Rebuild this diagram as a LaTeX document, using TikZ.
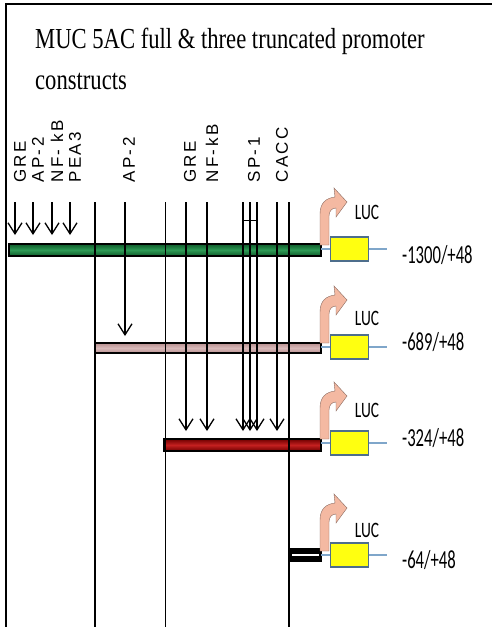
\documentclass[tikz,border=0pt]{standalone}
\usepackage{fontspec}
\setmainfont{Liberation Serif}
\newfontfamily\lucfont{Carlito}
\newfontfamily\sitefont{Liberation Sans}
\usetikzlibrary{arrows.meta, positioning}

\definecolor{barGreen}{HTML}{2E9A55}
\definecolor{barGreenD}{HTML}{0E5A2A}
\definecolor{barPink}{HTML}{D9B9B9}
\definecolor{barPinkD}{HTML}{B89090}
\definecolor{barRed}{HTML}{C42020}
\definecolor{barRedD}{HTML}{700000}
\definecolor{lucYellow}{HTML}{FFFF10}
\definecolor{lucEdge}{HTML}{4E6E8C}
\definecolor{lucWire}{HTML}{7FA6CA}
\definecolor{tssFill}{HTML}{F4B9A2}
\definecolor{tssEdge}{HTML}{8A6A60}

\begin{document}
\begin{tikzpicture}
  [x=1pt,y=-1pt,
   site/.style={rotate=90,anchor=west,inner sep=0pt,
     font=\sitefont\fontsize{17}{17}\selectfont\addfontfeature{LetterSpace=15}},
   bind/.style={line width=1.3pt,-{Straight Barb[length=11pt,width=14pt,line width=1.3pt]}},
   bar/.style={draw=black,line width=2.6pt},
   lucbox/.style={draw=lucEdge,line width=1.8pt,fill=lucYellow,
     minimum width=38pt,minimum height=24pt,inner sep=0pt},
   luctext/.style={font=\lucfont\fontsize{22}{22}\selectfont\addfontfeature{FakeStretch=0.7}},
   constr/.style={anchor=west,inner sep=0pt,
     font=\lucfont\fontsize{26}{26}\selectfont\addfontfeature{FakeStretch=0.64}},
   heading/.style={anchor=base west,inner sep=0pt,
     font=\fontsize{29}{29}\selectfont\addfontfeature{FakeStretch=0.78}}]
  \useasboundingbox (0,0) rectangle (492,629);

  % frame and title
  \draw[line width=1.2pt] (492,4) -- (6,4) -- (6,627);
  \node[heading] (title1) at (35,48) {MUC 5AC full \& three truncated promoter};
  \node[heading] (title2) at (35,89) {constructs};

  % binding site labels
  \foreach \xx/\txt in {20/GRE, 38/AP-2, 57/NF- kB, 75/PEA3, 129/AP-2,
                        190/GRE, 212/NF-kB, 254/SP-1, 282/CACC}
    \node[site] (lab\xx) at (\xx,183) {\txt};

  % promoter bars
  \draw[bar,top color=barGreenD,bottom color=barGreenD,middle color=barGreen]
    (9,244) rectangle (321,256);
  \draw[bar,top color=barPinkD,bottom color=barPinkD,middle color=barPink]
    (95,343) rectangle (321,353);
  \draw[bar,top color=barRedD,bottom color=barRedD,middle color=barRed]
    (164,439) rectangle (321,451);
  \draw[bar,fill=black] (289,549) rectangle (321,561);
  \draw[white,line width=1.6pt] (292,555) -- (319,555);

  % long boundary lines
  \foreach \xx/\lw in {95/1.7, 165/1.0, 289/1.7} {
    \coordinate (ltop\xx) at (\xx,202);
    \coordinate (lbot\xx) at (\xx,627);
    \draw[line width=\lw pt] (ltop\xx) -- (lbot\xx);
  }

  % binding site arrows
  \foreach \xx/\tip in {15/235, 33/235, 52/235, 70/235, 125/336,
                        186/431, 207/431, 243/431, 250/431, 257/431, 277/431} {
    \coordinate (atop\xx) at (\xx,202);
    \coordinate (atip\xx) at (\xx,\tip);
    \draw[bind] (atop\xx) -- (atip\xx);
  }
  \draw[line width=1pt] (atop243|-0,220) -- (atop257|-0,220);

  % luciferase reporters
  \foreach \yy/\nm/\ly/\cy/\txt in {249/a/212/255/{-1300/+48}, 347/b/318/342/{-689/+48},
                                    443/c/410/438/{-324/+48}, 555/d/530/560/{-64/+48}} {
    \coordinate (wl\nm) at (321,\yy);
    \coordinate (wr\nm) at (387,\yy);
    \draw[lucWire,line width=1.2pt] (wl\nm) -- (wr\nm);
    \node[lucbox] (box\nm) at (349.5,\yy) {};
    \filldraw[fill=tssFill,draw=tssEdge,line width=0.4pt,shift={(0,\yy)}]
      (320,-4) -- (320,-35) .. controls (320,-46) and (326,-51) .. (335,-52)
      -- (334,-61) -- (347,-47) -- (336,-32) -- (336,-41)
      .. controls (332,-41) and (329,-38) .. (329,-33) -- (329,-4) -- cycle;
    \node[luctext] (luc\nm) at (367,\ly) {LUC};
    \node[constr] (len\nm) at (402,\cy) {\txt};
  }
\end{tikzpicture}
\end{document}
